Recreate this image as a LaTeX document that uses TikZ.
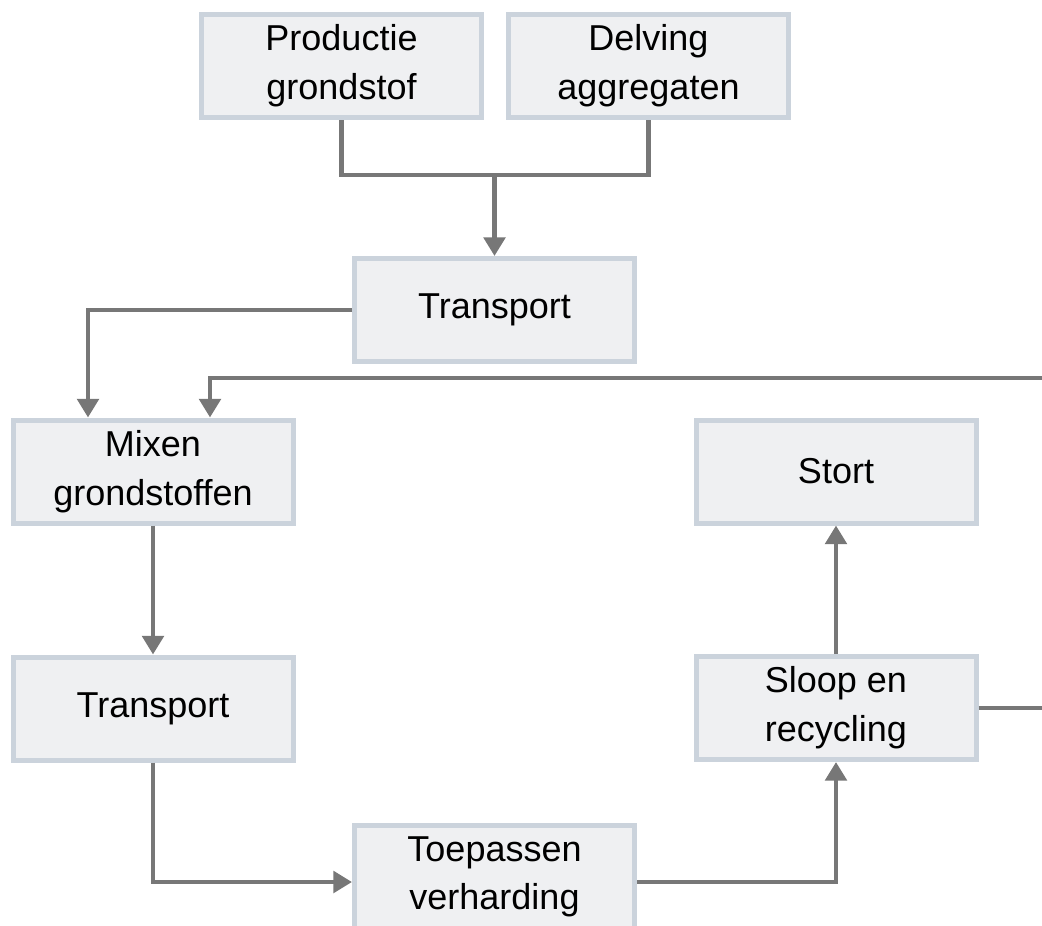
\documentclass[tikz,border=0pt]{standalone}
\usepackage{fontspec}
\setmainfont{Liberation Sans}
\usetikzlibrary{arrows.meta}
\definecolor{blokvul}{HTML}{EFF0F2}
\definecolor{blokrand}{HTML}{CBD3DC}
\definecolor{pijlgrijs}{HTML}{777777}
\tikzset{blok/.style = {draw = blokrand, fill = blokvul, line width = 3.75pt,
           minimum width = 210pt, minimum height = 77.25pt,
           inner sep = 0pt, align = center,
           font = \fontsize{27}{36.5}\selectfont},
         lijn/.style = {draw = pijlgrijs, line width = 3.4pt},
         pijl/.style = {lijn, -{Triangle[width = 16pt, length = 14pt]}}}

\begin{document}
\begin{tikzpicture}[x = 0.75pt, y = -0.75pt]
        \useasboundingbox (0,0) rectangle (1042,925);

        \node[blok] (prod)   at (341.5,66)  {Productie\\grondstof};
        \node[blok] (delv)   at (648.5,66)  {Delving\\aggregaten};
        \node[blok] (trans1) at (494.5,310) {Transport};
        \node[blok] (mix)    at (153,471.5) {Mixen\\grondstoffen};
        \node[blok] (stort)  at (836,471.5) {Stort};
        \node[blok] (trans2) at (153,708.5) {Transport};
        \node[blok] (sloop)  at (836,708)   {Sloop en\\recycling};
        \node[blok] (toep)   at (494.5,877) {Toepassen\\verharding};

        \coordinate (samen) at (494.5,175);
        \coordinate (terug) at (1080,378);

        \draw[lijn] (prod.south) |- (samen) -| (delv.south);
        \draw[pijl] (samen) -- (trans1.north);
        \draw[pijl] (trans1.west) -| ([xshift = -48.75pt]mix.north);
        \draw[pijl] (sloop.east) -| (terug) -| ([xshift = 42.75pt]mix.north);
        \draw[pijl] (mix.south) -- (trans2.north);
        \draw[pijl] (trans2.south) |- ([yshift = -3.75pt]toep.west);
        \draw[pijl] ([yshift = -3.75pt]toep.east) -| (sloop.south);
        \draw[pijl] (sloop.north) -- (stort.south);
    \end{tikzpicture}
\end{document}
